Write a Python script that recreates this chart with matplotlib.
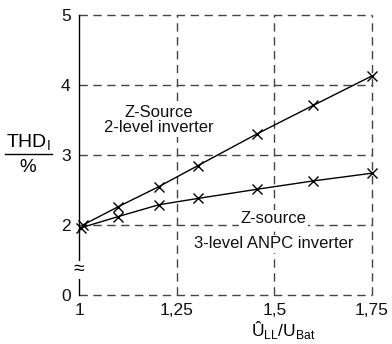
import matplotlib
matplotlib.use("Agg")
import matplotlib.pyplot as plt
from matplotlib.lines import Line2D

plt.rcParams['font.family'] = ['Liberation Sans', 'DejaVu Sans']

# data (y in display units: bottom of axis labelled "0" sits at 1 because of the axis break)
x_2level = [1.01, 1.10, 1.205, 1.305, 1.455, 1.60, 1.75]
y_2level = [2.00, 2.26, 2.55, 2.85, 3.30, 3.71, 4.13]
x_3level = [1.005, 1.10, 1.205, 1.305, 1.455, 1.60, 1.75]
y_3level = [1.96, 2.12, 2.29, 2.38, 2.51, 2.63, 2.74]
xticks = [1.0, 1.25, 1.5, 1.75]
xtick_labels = ['1', '1,25', '1,5', '1,75']
yticks = [1, 2, 3, 4, 5]
ytick_labels = ['0', '2', '3', '4', '5']

fig = plt.figure(figsize=(3.92, 3.44), dpi=100)
ax = fig.add_axes([79/392, 1-295/344, (372-79)/392, (295-15)/344])
ax.set_xlim(1.0, 1.75)
ax.set_ylim(1, 5)

gcol = '#444444'
dash = (0, (6, 4))
for yv in [1, 2, 3, 4, 5]:
    ax.axhline(yv, color=gcol, lw=1.0, ls=dash, zorder=1, clip_on=False)
for xv in [1.25, 1.5, 1.75]:
    ax.axvline(xv, color=gcol, lw=1.0, ls=dash, zorder=1, clip_on=False)

for s in ['top', 'right', 'bottom']:
    ax.spines[s].set_visible(False)
ax.spines['left'].set_color('black')
ax.spines['left'].set_linewidth(1.0)

ax.plot(x_2level, y_2level, color='black', lw=1.0, marker='x', ms=7, mew=1.0, zorder=3, clip_on=False)
ax.plot(x_3level, y_3level, color='black', lw=1.0, marker='x', ms=7, mew=1.0, zorder=3, clip_on=False)

ax.set_xticks(xticks)
ax.set_xticklabels(xtick_labels)
ax.set_yticks(yticks)
ax.set_yticklabels(ytick_labels)
ax.tick_params(length=0, labelsize=12.5, colors='#111111', pad=6)

bb = dict(facecolor='white', edgecolor='none', pad=1.0)
tkw = dict(ha='center', va='center', fontsize=12, color='#111111', bbox=bb, zorder=2)
ax.text(1.2035, 3.614, 'Z-Source', **tkw)
ax.text(1.2035, 3.386, '2-level inverter', **tkw)
ax.text(1.498, 2.086, 'Z-source', **tkw)
ax.text(1.498, 1.729, '3-level ANPC inverter', **tkw)

# axis break symbol
ax.text(1.0, 1.36, '≈', ha='center', va='center', fontsize=14, color='black',
        bbox=dict(facecolor='white', edgecolor='none', pad=0.5), zorder=5)

# y label as fraction
fig.text(28/392, 1-142.5/344, 'THD$_\\mathregular{I}$', ha='center', va='center', fontsize=14)
fig.add_artist(Line2D([5/392, 52/392], [1-154/344, 1-154/344], color='black', lw=1.0))
fig.text(28/392, 1-167/344, '%', ha='center', va='center', fontsize=13.5)

# x label
fig.text(283/392, 1-330/344, 'Û$_\\mathregular{LL}$/U$_\\mathregular{Bat}$', ha='center', va='center', fontsize=12.5)

fig.savefig('out.png', dpi=100)
